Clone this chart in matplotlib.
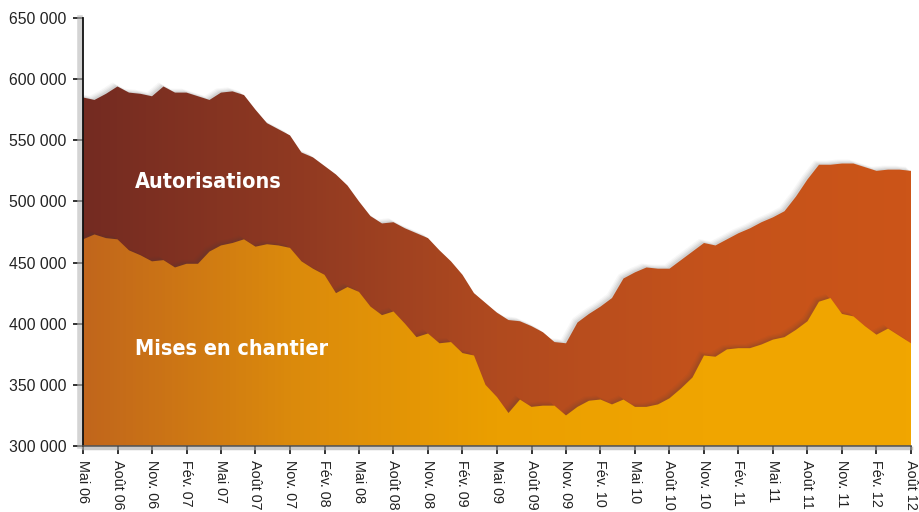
import matplotlib
matplotlib.use('Agg')
import matplotlib.pyplot as plt
import matplotlib.transforms as mtransforms
from matplotlib.colors import LinearSegmentedColormap
from matplotlib.patches import Polygon
from matplotlib.lines import Line2D
from matplotlib.ticker import FuncFormatter
import numpy as np

# quarterly tick labels (the last one is "Août 12" in the source)
tick_labels = ['Mai 06', 'Août 06', 'Nov. 06', 'Fév. 07', 'Mai 07', 'Août 07', 'Nov. 07',
               'Fév. 08', 'Mai 08', 'Août 08', 'Nov. 08', 'Fév. 09', 'Mai 09', 'Août 09',
               'Nov. 09', 'Fév. 10', 'Mai 10', 'Août 10', 'Nov. 10', 'Fév. 11', 'Mai 11',
               'Août 11', 'Nov. 11', 'Fév. 12', 'Août 12']

# monthly values, in thousands of dwellings
autorisations = [585, 583, 588, 594, 589, 588, 586, 594, 589, 589,
                 586, 583, 589, 590, 587, 575, 564, 559, 554, 540,
                 536, 529, 522, 513, 500, 488, 482, 483, 478, 474,
                 470, 460, 451, 440, 425, 417, 409, 403, 402, 398,
                 393, 385, 384, 401, 408, 414, 421, 437, 442, 446,
                 445, 445, 452, 459, 466, 464, 469, 474, 478, 483,
                 487, 492, 504, 518, 530, 530, 531, 531, 528, 525,
                 526, 526, 525]
mises_en_chantier = [469, 473, 470, 469, 460, 456, 451, 452, 446, 449,
                     449, 459, 464, 466, 469, 463, 465, 464, 462, 451,
                     445, 440, 425, 430, 426, 414, 407, 410, 400, 389,
                     392, 384, 385, 376, 374, 350, 340, 327, 338, 332,
                     333, 333, 325, 332, 337, 338, 334, 338, 332, 332,
                     334, 339, 347, 356, 374, 373, 379, 380, 380, 383,
                     387, 389, 395, 402, 418, 421, 408, 406, 398, 391,
                     396, 390, 384]

months = np.arange(len(autorisations))
auth = np.array(autorisations) * 1000
mec = np.array(mises_en_chantier) * 1000
y_min, y_max = 300000, 650000

fig = plt.figure(figsize=(9.2, 5.12), dpi=100)
ax = fig.add_axes([83 / 920, 66 / 512, 828 / 920, 428 / 512])


def gradient_area(values, colors, z):
    verts = np.column_stack([np.r_[months, months[::-1]],
                             np.r_[values, np.full(len(values), y_min)]])
    # soft drop shadow towards the upper left
    for k, a in [(5, 0.04), (4, 0.05), (3, 0.07), (2, 0.09)]:
        off = mtransforms.offset_copy(ax.transData, fig=fig, x=-k, y=k - 1, units='dots')
        ax.add_patch(Polygon(verts, closed=True, transform=off, facecolor='#404040',
                             edgecolor='none', alpha=a, zorder=z - 0.5))
    clip = Polygon(verts, closed=True, transform=ax.transData,
                   facecolor='none', edgecolor='none')
    ax.add_patch(clip)
    cmap = LinearSegmentedColormap.from_list('grad', colors)
    img = ax.imshow(np.linspace(0, 1, 256).reshape(1, -1), cmap=cmap, aspect='auto',
                    extent=[months[0], months[-1], y_min, y_max], zorder=z,
                    interpolation='bilinear')
    img.set_clip_path(clip)


gradient_area(auth, ['#742b21', '#8f3922', '#b04a1f', '#c4521b', '#cc5518'], 2)
gradient_area(mec, ['#c1661c', '#db8a0c', '#eb9f00', '#f0a500', '#f1a600'], 4)

ax.set_xlim(months[0], months[-1])
ax.set_ylim(y_min, y_max)

label_font = dict(color='white', fontsize=15.5, fontweight='bold', fontstretch='condensed',
                  family=['DejaVu Sans'], ha='center', va='center', zorder=6)
ax.text(10.9, 516000, 'Autorisations', **label_font)
ax.text(12.9, 379000, 'Mises en chantier', **label_font)

# axes
ax.set_yticks(np.arange(y_min, y_max + 1, 50000))
ax.yaxis.set_major_formatter(FuncFormatter(lambda v, p: f'{int(v):,}'.replace(',', ' ')))
ax.set_xticks(months[::3])
ax.set_xticklabels(tick_labels, rotation=270, ha='center', va='top')
for lab in ax.get_yticklabels():
    lab.set_family(['Liberation Sans', 'DejaVu Sans'])
    lab.set_fontsize(11.3)
    lab.set_color('#222222')
for lab in ax.get_xticklabels():
    lab.set_family(['Liberation Sans', 'DejaVu Sans'])
    lab.set_fontsize(10.4)
    lab.set_color('#222222')
ax.tick_params(axis='y', length=7, width=1.2, pad=5, color='#111111')
ax.tick_params(axis='x', length=6, width=1.2, pad=4, color='#111111')

for side in ['top', 'right']:
    ax.spines[side].set_visible(False)
ax.spines['left'].set_linewidth(1.3)
ax.spines['left'].set_color('#111111')
ax.spines['left'].set_zorder(8)
ax.spines['bottom'].set_linewidth(1.2)
ax.spines['bottom'].set_color('#555555')
ax.spines['bottom'].set_zorder(8)

# grey bevel next to the axis lines
left_off = mtransforms.offset_copy(ax.transAxes, fig=fig, x=-3, y=0, units='dots')
ax.add_line(Line2D([0, 0], [0, 1], transform=left_off, color='#b8b8b8', lw=4,
                   alpha=0.6, clip_on=False, zorder=7))
bot_off = mtransforms.offset_copy(ax.transAxes, fig=fig, x=0, y=-2, units='dots')
ax.add_line(Line2D([0, 1], [0, 0], transform=bot_off, color='#a8a8a8', lw=2.5,
                   alpha=0.6, clip_on=False, zorder=7))

fig.savefig('out.png', dpi=100)
